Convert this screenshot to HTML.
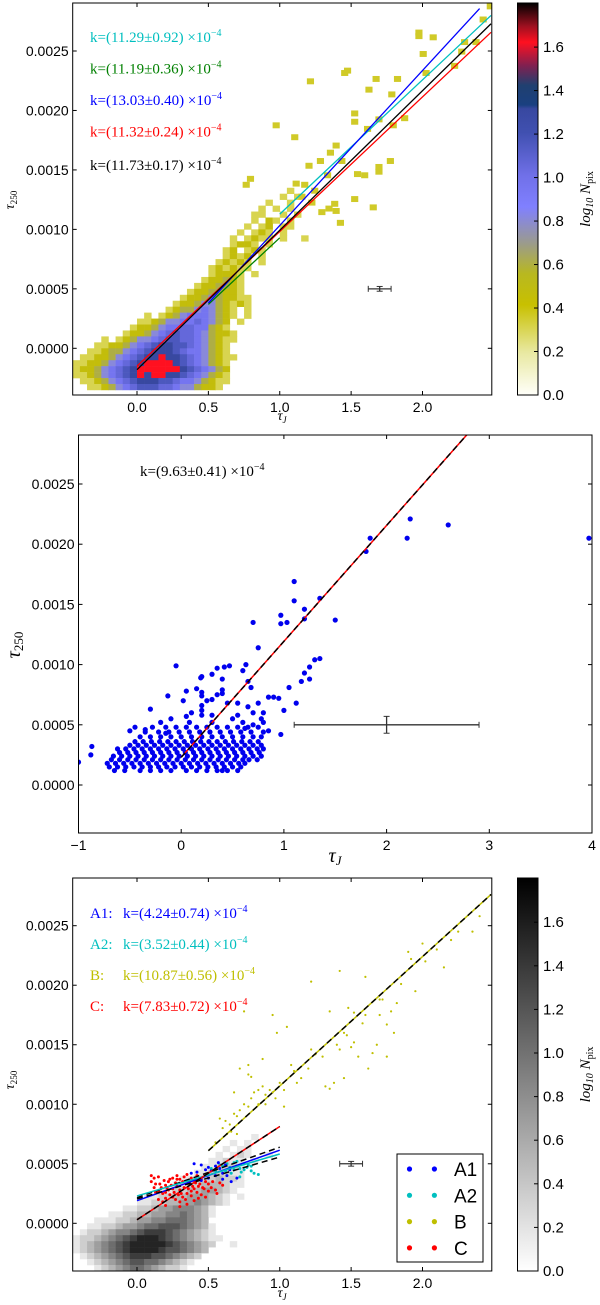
<!DOCTYPE html>
<html><head><meta charset="utf-8"><style>
body{margin:0;background:#fff}
svg{display:block}
text{font-family:"Liberation Sans",sans-serif;font-size:14px}
.serif{font-family:"Liberation Serif",serif}
</style></head><body>
<svg id="fig" width="600" height="1305" viewBox="0 0 600 1305" xmlns="http://www.w3.org/2000/svg">
<defs>
<linearGradient id="cm1" x1="0" y1="1" x2="0" y2="0">
<stop offset="0" stop-color="#fffffa"/><stop offset="0.11" stop-color="#e8e8a0"/><stop offset="0.23" stop-color="#c8c000"/><stop offset="0.31" stop-color="#b8b820"/><stop offset="0.39" stop-color="#9a9a90"/><stop offset="0.48" stop-color="#8080ff"/><stop offset="0.56" stop-color="#7070e8"/><stop offset="0.67" stop-color="#4050b0"/><stop offset="0.73" stop-color="#3848a0"/><stop offset="0.74" stop-color="#1a4080"/><stop offset="0.79" stop-color="#204070"/><stop offset="0.84" stop-color="#802050"/><stop offset="0.9" stop-color="#ff1020"/><stop offset="0.94" stop-color="#a01020"/><stop offset="1" stop-color="#000"/>
</linearGradient>
<linearGradient id="cm3" x1="0" y1="1" x2="0" y2="0"><stop offset="0" stop-color="#fff"/><stop offset="1" stop-color="#000"/></linearGradient>
</defs>
</svg>
<script>
// ---------- data ----------
const p1Grid = [
"..............................1..",
".............................1.1.",
"...........................1..1..",
"..........................1.1.1..",
".........................11..1.1.",
".........................1.21.1..",
"........................1.12.11..",
".......................1.121.1...",
"......................1.1211.1..1",
"......................1221.1......",
".....................12.121......",
".....................1212.1......",
"....................12121.1......",
"...................121211........",
"...................12221.1.......",
"..................122321.........",
".................1223321.........",
"................12233221.........",
"...............1223432211........",
"..............12234432121........",
".............1233454321.1........",
"..........1.12345554321.1........",
".........1123445565432.1.........",
"........12234556655321...........",
".......1223456766543221..........",
"....1.12344567766543211..........",
"...1122345678877654321...........",
"..11233456788876554321...........",
".1122345678898876543211..........",
"1122345678999987654321...........",
"1223456789999998765432...........",
"1123456789899887654321...........",
".112345678887765543211...........",
"..1123456777665443221............"];
const p1Levels = [0,0.3,0.45,0.6,0.8,0.95,1.05,1.15,1.3,1.6];
const p1SparseX = [1.95,1.95,2.05,2.4,2.45,2.27,2.25,1.43,1.45,1.19,1.65,1.8,1.76,1.6,2.0,1.5,1.5,1.67,1.77,1.59,1.85,0.95,1.08,1.37,1.33,1.41,1.67,1.75,1.18,1.31,1.52,1.57,1.67,1.09,1.15,1.22,1.13,0.77,0.74,1.32,1.36,1.5,1.63,1.27,1.37,1.4,1.98,2.2,2.35,1.2,1.26];
const p1SparseY = [2.68,2.65,2.64,2.79,2.9,2.6,2.52,2.34,2.36,2.27,2.29,2.29,2.16,2.2,2.34,2.0,1.93,1.95,1.9,1.87,1.96,1.9,1.8,1.73,1.67,1.6,1.55,1.6,1.56,1.48,1.49,1.48,1.51,1.41,1.4,1.35,1.3,1.45,1.4,1.2,1.24,1.28,1.21,1.17,1.18,1.08,2.5,2.4,2.6,1.25,1.6];
const p1Slopes = [11.29,11.19,13.03,11.32,11.73];
const p1Errs = [0.92,0.36,0.40,0.24,0.17];
const p1Colors = ["#00bfbf","#008000","#0000ff","#ff0000","#000000"];
const p1X0 = [1.0,0.5,0.5,0.0,0.0];
const p1X1 = [2.48,1.0,2.4,2.48,2.48];
const p1Int = [-0.0000007,-0.00019,-0.00027,-0.00015,-0.00018];

const p2Rows = [
[12,[-65,-55,-40,-30,-20,-10,5,15,25,35,40,45,55]],
[15,[-70,-62,-54,-46,-38,-30,-22,-14,-6,2,10,18,26,34,42,50,58]],
[18,[-72,-64,-56,-48,-40,-32,-24,-16,-8,0,8,16,24,32,40,48,56,62]],
[21,[-68,-60,-52,-44,-36,-28,-20,-12,-4,4,12,20,28,36,44,52,60,66,74]],
[24,[-66,-58,-50,-42,-34,-26,-18,-10,-2,6,14,22,30,38,46,54,62,70,78]],
[27,[-60,-52,-44,-36,-28,-20,-12,-4,4,12,20,28,36,44,52,60,68,76]],
[30,[-62,-54,-46,-38,-30,-22,-14,-6,2,10,18,26,34,42,50,58,66,74,80]],
[33,[-50,-42,-34,-26,-18,-10,-2,6,14,22,30,38,46,54,62,70,78]],
[36,[-45,-37,-29,-21,-13,-5,3,11,19,27,35,43,51,59,67,75]],
[40,[-40,-30,-20,-10,0,10,20,30,40,50,60,70,78]],
[44,[-35,-22,-12,-2,8,18,28,38,48,58,68,80]],
[48,[-28,-15,-5,5,15,25,35,45,55,65,75]]];
const p2SparseX = [-1.0,-0.88,-0.87,-0.3,-0.13,-0.05,0.02,0.05,0.15,0.2,0.2,0.2,0.2,0.1,0.2,0.3,0.19,0.2,0.3,0.35,0.42,0.47,0.4,0.4,0.4,0.35,0.25,0.3,0.45,0.55,0.6,0.63,0.65,0.68,0.7,0.75,0.65,0.7,0.75,0.8,0.85,0.9,0.95,0.97,0.97,1.03,1.1,1.1,1.2,1.2,1.35,1.5,0.97,1.0,1.05,1.12,1.17,1.2,1.25,1.25,1.3,1.35,1.8,1.84,2.2,2.23,2.6,3.97,-0.1,-0.2,-0.45,-0.5,0.05,0.5,0.55,0.6,0.7,0.78,0.85,0.8,0.62,-0.15,-0.35,0.08,0.3];
const p2SparseY = [19,25,32,63,74,99,70,78,80,77,74,66,58,60,62,58,89,90,92,97,98,99,88,79,76,75,70,71,68,68,95,100,86,81,135,114,65,60,68,60,73,73,72,141,134,135,169,153,146,138,155,137,42,62,81,68,86,93,98,88,104,105,194,205,205,221,216,205,55,52,48,45,57,55,58,52,50,55,45,52,47,43,46,52,52];
const p2Slope = 9.63, p2Int = 0.00023;

const p3Grid = [
".........................1......",
"......................1.1........",
".....................1.11........",
"....................1.121..1.....",
"...................11211.1......",
"..................112221........",
".................1122211........",
"...............111223221........",
"..............1122333211........",
"............11223344321.........",
"..........112233444321.1........",
".........1122334454321..........",
".......1122344555431............",
".....112233445565431............",
"...1112234455666543.............",
"..112234456677765431............",
".1223455678887654321............",
"122345678999876543211...........",
"12345678999998765432..1.........",
"1234567899998776543.............",
".12345678887765432..............",
"..123456776654321...............",
"...1234566543221................"];
const bX = [0.55,0.6,0.62,0.65,0.66,0.7,0.68,0.72,0.75,0.78,0.8,0.82,0.85,0.88,0.9,0.93,0.95,0.97,1.0,1.03,0.85,0.8,0.78,0.7,0.63,0.58,0.9,0.95,0.98,1.03,1.05,1.08,1.1,1.12,1.15,1.2,1.22,1.25,1.3,1.32,1.35,1.38,1.4,1.42,1.45,1.47,1.5,1.52,1.55,1.58,1.6,1.62,1.65,1.68,1.7,1.72,1.75,1.78,1.8,1.82,1.85,1.9,1.92,1.95,2.0,2.02,2.1,2.15,2.2,2.25,2.35,2.4,1.22,1.42,1.6,1.45,1.35,1.48,1.52,1.7,1.75,0.75,0.72,0.68,0.88,0.78];
const bY = [68,80,86,83,77,75,92,95,100,98,105,110,112,115,108,112,110,105,118,112,100,123,125,90,75,88,100,175,160,98,165,133,128,118,122,130,146,142,140,115,113,118,150,146,160,158,148,152,140,168,175,130,143,150,175,188,167,178,160,185,201,228,222,195,235,220,230,215,238,245,245,258,203,212,207,122,178,181,177,188,140,178,130,110,138,133];
const a1X = [0.4,0.45,0.5,0.52,0.55,0.58,0.6,0.62,0.65,0.48,0.42,0.55,0.6,0.66,0.7,0.5,0.45,0.38,0.57,0.63];
const a1Y = [50,49,47,44,48,46,42,49,45,45,43,40,37,35,38,38,36,42,51,40];
const a2X = [0.6,0.63,0.65,0.68,0.7,0.72,0.75,0.77,0.8,0.82,0.85,0.73,0.68,0.62,0.58,0.7,0.75,0.78,0.66,0.72,0.8,0.55,0.5,0.52];
const a2Y = [48,50,47,51,48,46,50,47,44,42,41,43,45,44,49,52,45,49,42,39,48,44,41,46];
const cX = [0.1,0.12,0.15,0.1,0.13,0.17,0.2,0.22,0.25,0.28,0.3,0.33,0.35,0.38,0.4,0.42,0.45,0.48,0.5,0.52,0.55,0.2,0.23,0.25,0.27,0.3,0.32,0.35,0.38,0.4,0.42,0.45,0.48,0.3,0.28,0.25,0.22,0.18,0.15,0.12,0.15,0.18,0.2,0.3,0.35,0.4,0.43,0.47,0.5,0.37,0.33,0.27,0.23,0.19,0.32,0.36,0.41,0.44,0.26,0.29,0.34,0.38,0.24,0.21,0.16,0.31,0.36,0.39,0.46,0.28,0.13,0.2,0.43,0.53,0.56,0.6,0.58];
const cY = [40,38,39,35,33,30,32,35,38,40,37,39,41,38,36,40,37,35,33,30,28,26,24,22,20,18,22,25,27,29,26,24,22,28,31,29,28,25,27,30,20,18,15,14,16,19,31,29,27,33,30,34,37,36,35,36,34,33,26,24,20,23,32,30,33,25,29,31,30,37,26,21,21,35,25,32,34];
const p3Labels = ["A1:","A2:","B:","C:"];
const p3Slopes = [4.24,3.52,10.87,7.83];
const p3Errs = [0.74,0.44,0.56,0.72];
const p3Colors = ["#0000ff","#00bfbf","#bfbf00","#ff0000"];
const p3X0 = [0.0,0.0,0.5,0.0];
const p3X1 = [1.0,1.0,2.48,1.0];
const p3Int = [0.00019,0.00023,0.0000665,0.00003];

const yTicks = [0,0.0005,0.001,0.0015,0.002,0.0025];
const yTickLabels = ["0.0000","0.0005","0.0010","0.0015","0.0020","0.0025"];
const xTicks13 = [0,0.5,1,1.5,2];
const xTickLabels13 = ["0.0","0.5","1.0","1.5","2.0"];
const xTicks2 = [-1,0,1,2,3,4];
const xTickLabels2 = ["\u22121","0","1","2","3","4"];
const cbTicks = [0,0.2,0.4,0.6,0.8,1.0,1.2,1.4,1.6];
const cbTickLabels = ["0.0","0.2","0.4","0.6","0.8","1.0","1.2","1.4","1.6"];

// ---------- helpers ----------
const NS="http://www.w3.org/2000/svg";
const svg=document.getElementById('fig');
function mk(tag,attrs,parent){const e=document.createElementNS(NS,tag);for(const k in attrs)e.setAttribute(k,attrs[k]);(parent||svg).appendChild(e);return e;}
function lin(d0,d1,r0,r1){return v=>r0+(v-d0)*(r1-r0)/(d1-d0);}
const stops1=[[0,[255,255,250]],[0.2,[232,232,160]],[0.4,[200,192,0]],[0.55,[184,184,32]],[0.7,[154,154,144]],[0.85,[128,128,255]],[1.0,[112,112,232]],[1.2,[64,80,176]],[1.3,[56,72,160]],[1.32,[26,64,128]],[1.4,[32,64,112]],[1.5,[128,32,80]],[1.6,[255,16,32]],[1.68,[160,16,32]],[1.78,[0,0,0]]];
function cmap1(v){for(let i=1;i<stops1.length;i++){if(v<=stops1[i][0]){const a=stops1[i-1],b=stops1[i];const t=(v-a[0])/(b[0]-a[0]);return 'rgb('+a[1].map((c,j)=>Math.round(c+(b[1][j]-c)*t)).join(',')+')';}}return '#000';}
function cmapG(v){const g=Math.round(255*(1-v/1.78));return 'rgb('+g+','+g+','+g+')';}

function frame(g,L,R,T,B,sx,sy,xt,xl,name){
  for(let i=0;i<yTicks.length;i++){const y=sy(yTicks[i]);
    let t=mk('line',{x1:L,x2:L+4,y1:y,y2:y,stroke:'#000'},g);
    t=mk('line',{x1:R-4,x2:R,y1:y,y2:y,stroke:'#000'},g);
    const tx=mk('text',{x:L-4,y:y+5,'text-anchor':'end'},g);tx.textContent=yTickLabels[i];
    }
  for(let i=0;i<xt.length;i++){const x=sx(xt[i]);
    let t=mk('line',{x1:x,x2:x,y1:B-4,y2:B,stroke:'#000'},g);
    t=mk('line',{x1:x,x2:x,y1:T,y2:T+4,stroke:'#000'},g);
    const tx=mk('text',{x:x,y:B+17,'text-anchor':'middle'},g);tx.textContent=xl[i];
    }
  const r=mk('rect',{x:L,y:T,width:R-L,height:B-T,fill:'none',stroke:'#000','stroke-width':1},g);
  
}
function colorbar(g,T,B,grad){
  const cb=lin(0,1.6,B,T+(B-T)*0.1125);
  const r=mk('rect',{x:517.5,y:T,width:20.5,height:B-T,fill:'url(#'+grad+')',stroke:'#000'},g);
  
  for(let i=0;i<cbTicks.length;i++){const y=cb(cbTicks[i]);
    const t=mk('line',{x1:534,x2:538,y1:y,y2:y,stroke:'#000'},g);
    const tx=mk('text',{x:543,y:y+5,style:'font-size:15px'},g);tx.textContent=cbTickLabels[i];
    }
  const cy=(T+B)/2;
  const lab=mk('text',{x:590,y:cy,'text-anchor':'middle',transform:'rotate(-90 590 '+cy+')',class:'serif',style:'font-size:15px;font-style:italic'},g);
  lab.innerHTML='log<tspan font-size="10" dy="3">10</tspan><tspan dy="-3"> N</tspan><tspan font-size="10" dy="3" font-style="normal">pix</tspan>';
  
}
function axisLabels(g,cx,by,ly,big){
  const fs=big?20:14;
  const xl=mk('text',{x:cx,y:by,'text-anchor':'middle',class:'serif',style:'font-size:'+fs+'px;font-style:italic'},g);
  xl.innerHTML='τ<tspan font-size="'+(fs*0.65)+'" dy="3">J</tspan>';
  
  const x=big?20:14;
  const yl=mk('text',{x:x,y:ly,'text-anchor':'middle',transform:'rotate(-90 '+x+' '+ly+')',class:'serif',style:'font-size:'+fs+'px;font-style:italic'},g);
  yl.innerHTML='τ<tspan font-size="'+(fs*0.65)+'" dy="3" font-style="normal">250</tspan>';
  
}
function kText(g,x,y,slope,err,color){
  const t=mk('text',{x:x,y:y,class:'serif',style:'font-size:15px;fill:'+color},g);
  t.innerHTML='k=('+slope.toFixed(2)+'±'+err.toFixed(2)+') ×10<tspan font-size="10" dy="-6">−4</tspan>';
  
}
function errbar(g,sx,sy,x,y,dx,dy){
  const c='#333';
  const e=mk('g',{},g);
  mk('line',{x1:sx(x-dx),x2:sx(x+dx),y1:sy(y),y2:sy(y),stroke:c,'stroke-width':1.3},e);
  mk('line',{x1:sx(x),x2:sx(x),y1:sy(y-dy),y2:sy(y+dy),stroke:c,'stroke-width':1.3},e);
  [sx(x-dx),sx(x+dx)].forEach(p=>mk('line',{x1:p,x2:p,y1:sy(y)-3,y2:sy(y)+3,stroke:c},e));
  [sy(y-dy),sy(y+dy)].forEach(q=>mk('line',{x1:sx(x)-3,x2:sx(x)+3,y1:q,y2:q,stroke:c},e));
}

// ---------- panel 1 ----------
(function(){
  const g=mk('g',{});
  const L=72.7,R=491.8,T=3,B=395;
  const sx=lin(0,2,137,422.5), sy=lin(0,0.0025,348.3,51);
  const clip=mk('clipPath',{id:'c1'},g);mk('rect',{x:L,y:T,width:R-L,height:B-T},clip);
  const cells=mk('g',{'clip-path':'url(#c1)'},g);
  const cw=sx(0.05)-sx(0), ch=sy(0)-sy(0.00005);
  for(let r=0;r<p1Grid.length;r++){const row=p1Grid[r];for(let c=0;c<row.length;c++){const d=row[c];if(d==='.')continue;
    const xv=-0.45+0.05*c, yv=0.0013-0.00005*r;
    const e=mk('rect',{x:sx(xv),y:sy(yv+0.00005),width:cw+0.3,height:ch+0.3,fill:cmap1(p1Levels[+d])},cells);
    }}
  for(let i=0;i<p1SparseX.length;i++){
    const e=mk('rect',{x:sx(p1SparseX[i]),y:sy(p1SparseY[i]*1e-3),width:cw,height:ch,fill:cmap1(0.35)},cells);
    }
  for(let i=0;i<p1Slopes.length;i++){const k=p1Slopes[i]*1e-4;
    const ln=mk('line',{x1:sx(p1X0[i]),y1:sy(p1Int[i]+k*p1X0[i]),x2:sx(p1X1[i]),y2:sy(p1Int[i]+k*p1X1[i]),stroke:p1Colors[i],'stroke-width':1.3},cells);
    
    kText(g,90,42+31.5*i+(i===4?2:0),p1Slopes[i],p1Errs[i],p1Colors[i]);}
  errbar(g,sx,sy,1.7,0.0005,0.08,0.00002);
  frame(g,L,R,T,B,sx,sy,xTicks13,xTickLabels13,'top-plot');
  colorbar(g,T,B,'cm1');
  axisLabels(g,282,420,200,false);
})();

// ---------- panel 2 ----------
(function(){
  const g=mk('g',{});
  const L=78.5,R=592,T=435,B=833;
  const sx=lin(-1,4,78.5,592), sy=lin(0,0.0025,785,484);
  const clip=mk('clipPath',{id:'c2'},g);mk('rect',{x:L,y:T,width:R-L,height:B-T},clip);
  const pts=mk('g',{'clip-path':'url(#c2)'},g);
  function dot(x,y){const e=mk('circle',{cx:sx(x),cy:sy(y),r:2.6,fill:'#0000ee'},pts);
    }
  p2Rows.forEach(rw=>rw[1].forEach(x=>dot(x/100,rw[0]*1e-5)));
  for(let i=0;i<p2SparseX.length;i++)dot(p2SparseX[i],p2SparseY[i]*1e-5);
  const x1=2.8;
  let ln=mk('line',{x1:sx(0),y1:sy(p2Int),x2:sx(x1),y2:sy(p2Int+p2Slope*1e-4*x1),stroke:'#ff0000','stroke-width':1.5},pts);
  
  ln=mk('line',{x1:sx(0),y1:sy(p2Int),x2:sx(x1),y2:sy(p2Int+p2Slope*1e-4*x1),stroke:'#000','stroke-width':1.5,'stroke-dasharray':'6 4'},pts);
  
  kText(g,140,476,9.63,0.41,'#000');
  errbar(g,sx,sy,2,0.0005,0.9,0.00007);
  frame(g,L,R,T,B,sx,sy,xTicks2,xTickLabels2,'middle-plot');
  axisLabels(g,335,862,645,true);
})();

// ---------- panel 3 ----------
(function(){
  const g=mk('g',{});
  const L=72.7,R=491.8,T=878,B=1271;
  const sx=lin(0,2,137,422.5), sy=lin(0,0.0025,1223.3,925.7);
  const clip=mk('clipPath',{id:'c3'},g);mk('rect',{x:L,y:T,width:R-L,height:B-T},clip);
  const cells=mk('g',{'clip-path':'url(#c3)'},g);
  const cw=sx(0.05)-sx(0), ch=sy(0)-sy(0.00005);
  for(let r=0;r<p3Grid.length;r++){const row=p3Grid[r];for(let c=0;c<row.length;c++){const d=row[c];if(d==='.')continue;
    const xv=-0.45+0.05*c, yv=0.0007-0.00005*r;
    const e=mk('rect',{x:sx(xv),y:sy(yv+0.00005),width:cw+0.3,height:ch+0.3,fill:cmapG(+d*0.17)},cells);
    }}
  function pts(xs,ys,col,name,r){for(let i=0;i<xs.length;i++){
    const e=mk('circle',{cx:sx(xs[i]),cy:sy(ys[i]*1e-5),r:r,fill:col},cells);
    }}
  pts(bX,bY,'#bfbf00','point-b',1.1);
  pts(cX,cY,'#ff0000','point-c',1.5);
  pts(a2X,a2Y,'#00bfbf','point-a2',1.5);
  pts(a1X,a1Y,'#0000ff','point-a1',1.5);
  for(let i=0;i<p3Slopes.length;i++){const k=p3Slopes[i]*1e-4;
    const a={x1:sx(p3X0[i]),y1:sy(p3Int[i]+k*p3X0[i]),x2:sx(p3X1[i]),y2:sy(p3Int[i]+k*p3X1[i])};
    let ln=mk('line',Object.assign({stroke:p3Colors[i],'stroke-width':1.5},a),cells);
    
    ln=mk('line',Object.assign({stroke:'#000','stroke-width':1.5,'stroke-dasharray':'6 4',transform:'translate(0,'+(i===0?-3:i===1?3:0)+')'},a),cells);
    
    const pt=mk('text',{x:90,y:918+31*i,class:'serif',style:'font-size:15px;fill:'+p3Colors[i]},g);pt.textContent=p3Labels[i];
    
    kText(g,123,918+31*i,p3Slopes[i],p3Errs[i],p3Colors[i]);}
  errbar(g,sx,sy,1.5,0.0005,0.08,0.00002);
  frame(g,L,R,T,B,sx,sy,xTicks13,xTickLabels13,'bottom-plot');
  const lg=mk('g',{},g);
  mk('rect',{x:397,y:1154,width:86,height:108,fill:'#fff',stroke:'#000'},lg);
  const names=['A1','A2','B','C'];
  for(let i=0;i<4;i++){const y=1169+26.3*i;
    const en=mk('g',{},lg);
    mk('circle',{cx:409.5,cy:y,r:2.6,fill:p3Colors[i]},en);mk('circle',{cx:434.4,cy:y,r:2.6,fill:p3Colors[i]},en);
    const t=mk('text',{x:454,y:y+7,style:'font-size:19px'},en);t.textContent=names[i];}
  colorbar(g,T,B,'cm3');
  axisLabels(g,282,1297,1080,false);
})();
</script>
</body></html>
